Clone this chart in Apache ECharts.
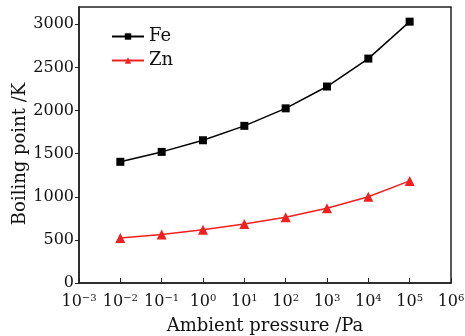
<!DOCTYPE html>
<html><head><meta charset="utf-8">
<script src="https://cdn.jsdelivr.net/npm/echarts@6/dist/echarts.min.js"></script>
<style>html,body{margin:0;padding:0;background:#fff}#c{width:465px;height:336px}</style>
</head><body><div id="c"></div>
<script>
var pressures = [1e-2, 1e-1, 1e0, 1e1, 1e2, 1e3, 1e4, 1e5];
var feValues = [1405, 1520, 1655, 1822, 2025, 2278, 2602, 3030];
var znValues = [522, 562, 618, 684, 762, 866, 1000, 1184];
var seriesNames = ['Fe', 'Zn'];
var xAxisName = 'Ambient pressure /Pa';
var yAxisName = 'Boiling point /K';

var FONT = '"DejaVu Serif", "Liberation Serif", serif';
function sup(v){
  var e = Math.round(Math.log10(v));
  var s = e < 0 ? '\u2212' + (-e) : '' + e;
  return '10{s|' + s + '}';
}
var chart = echarts.init(document.getElementById('c'));
chart.setOption({
  animation: false,
  backgroundColor: '#fff',
  grid: {left: 79, right: 14, top: 7, bottom: 53, containLabel: false, outerBoundsMode: 'none',
         show: true, borderColor: '#222', borderWidth: 1.5, backgroundColor: 'transparent'},
  legend: {
    orient: 'vertical', left: 106, top: 22, itemWidth: 32, itemHeight: 8, itemGap: 5,
    textStyle: {fontFamily: FONT, fontSize: 18, color: '#111', lineHeight: 19},
    data: seriesNames
  },
  xAxis: {
    type: 'log', logBase: 10, min: 1e-3, max: 1e6,
    name: xAxisName, nameLocation: 'middle', nameGap: 34, nameMoveOverlap: false,
    nameTextStyle: {fontFamily: FONT, fontSize: 18, color: '#111'},
    axisLine: {lineStyle: {color: '#222', width: 1.5}},
    axisTick: {inside: true, length: 5, lineStyle: {color: '#222'}},
    minorTick: {show: false},
    splitLine: {show: false},
    axisLabel: {
      fontFamily: FONT, fontSize: 16, color: '#111', margin: 10,
      formatter: function(v){ return sup(v); },
      rich: {s: {fontFamily: FONT, fontSize: 10, color: '#111', verticalAlign: 'top', padding: [0,0,8,0]}}
    }
  },
  yAxis: {
    type: 'value', min: 0, max: 3200, interval: 500,
    name: yAxisName, nameLocation: 'middle', nameGap: 50, nameMoveOverlap: false,
    nameTextStyle: {fontFamily: FONT, fontSize: 18, color: '#111', padding: [0, 18, 0, 0]},
    axisLine: {show: true, lineStyle: {color: '#222', width: 1.5}},
    axisTick: {show: true, inside: false, length: 4, lineStyle: {color: '#222'}},
    splitLine: {show: false},
    axisLabel: {fontFamily: FONT, fontSize: 16, color: '#111', margin: 5, showMaxLabel: false,
                formatter: function(v){ return String(v); }}
  },
  series: [
    {name: seriesNames[0], type: 'line', symbol: 'rect', symbolSize: 8,
     itemStyle: {color: '#000'}, lineStyle: {color: '#000', width: 1.5},
     data: pressures.map(function(p, i){ return [p, feValues[i]]; })},
    {name: seriesNames[1], type: 'line', symbol: 'triangle', symbolSize: 10,
     itemStyle: {color: '#f02020'}, lineStyle: {color: '#f02020', width: 1.5},
     data: pressures.map(function(p, i){ return [p, znValues[i]]; })}
  ]
});
</script></body></html>
